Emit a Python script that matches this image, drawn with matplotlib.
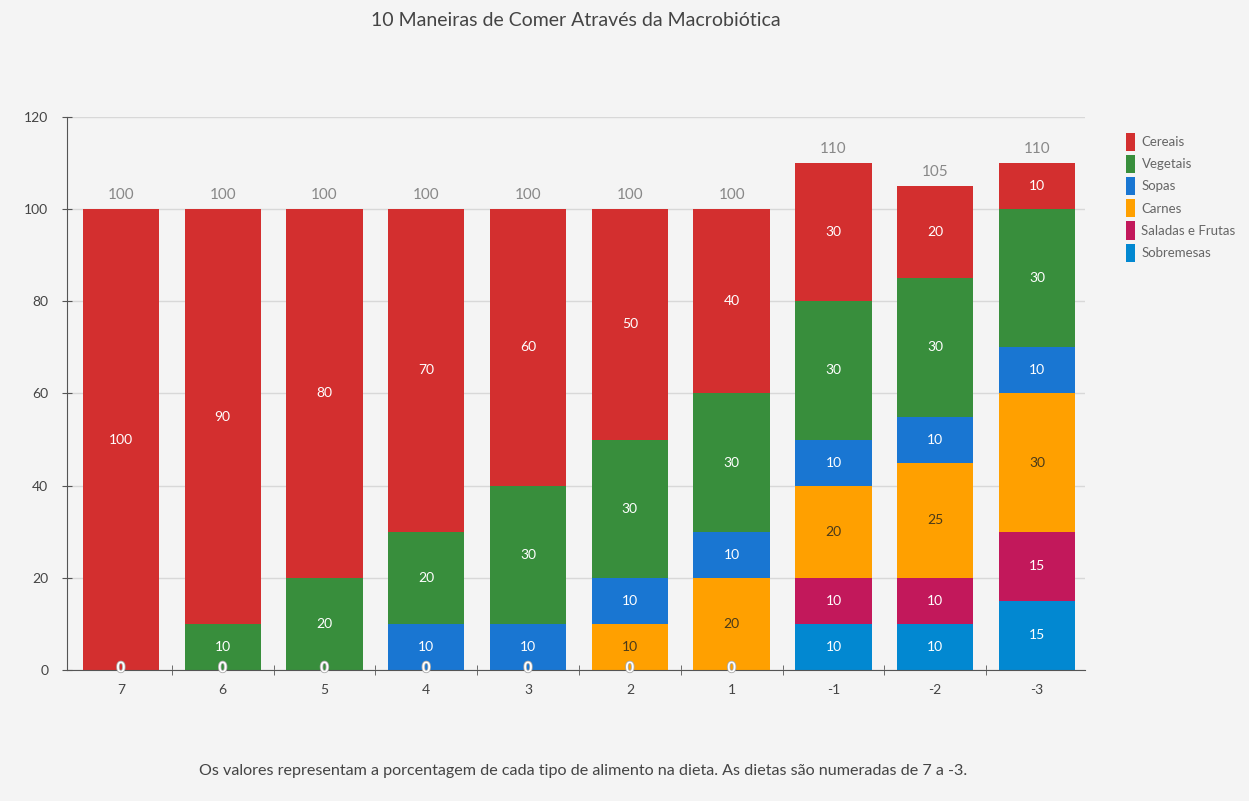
import numpy as np
import matplotlib.pyplot as plt
import matplotlib.patheffects as pe

plt.rcParams['font.family'] = ['Lato', 'DejaVu Sans']

dietas = ['7', '6', '5', '4', '3', '2', '1', '-1', '-2', '-3']

# stacked from bottom to top
sobremesas = [0, 0, 0, 0, 0, 0, 0, 10, 10, 15]
saladas = [0, 0, 0, 0, 0, 0, 0, 10, 10, 15]
carnes = [0, 0, 0, 0, 0, 10, 20, 20, 25, 30]
sopas = [0, 0, 0, 10, 10, 10, 10, 10, 10, 10]
vegetais = [0, 10, 20, 20, 30, 30, 30, 30, 30, 30]
cereais = [100, 90, 80, 70, 60, 50, 40, 30, 20, 10]

series = [
    ('Sobremesas', sobremesas, '#0288d1', 'white'),
    ('Saladas e Frutas', saladas, '#c2185b', 'white'),
    ('Carnes', carnes, '#ffa000', '#4a3a1a'),
    ('Sopas', sopas, '#1976d2', 'white'),
    ('Vegetais', vegetais, '#388e3c', 'white'),
    ('Cereais', cereais, '#d32f2f', 'white'),
]

bg = '#f4f4f4'
fig = plt.figure(figsize=(12.49, 8.01), dpi=100, facecolor=bg)
ax = fig.add_axes([0.0536, 0.1635, 0.815, 0.6905], facecolor=bg)

x = np.arange(len(dietas))
bottom = np.zeros(len(dietas))
has_zero = np.zeros(len(dietas), dtype=bool)
handles = []
for name, vals, color, tcolor in series:
    vals = np.array(vals, dtype=float)
    b = ax.bar(x, vals, 0.75, bottom=bottom, color=color, label=name, zorder=2)
    handles.append(b)
    for xi, v, bt in zip(x, vals, bottom):
        if v == 0:
            has_zero[xi] = True
            continue
        ax.text(xi, bt + v / 2, f'{int(v)}', ha='center', va='center',
                fontsize=10, color=tcolor, zorder=4)
    bottom += vals

for xi in x[has_zero]:
    t = ax.text(xi, 0.4, '0', ha='center', va='center', fontsize=10.5,
                color='white', fontweight='bold', zorder=4)
    t.set_path_effects([pe.withStroke(linewidth=1.2, foreground='#aaaaaa')])

for xi, tot in zip(x, bottom):
    ax.text(xi, tot + 1.5, f'{int(tot)}', ha='center', va='bottom',
            fontsize=11, color='#888888')

ax.set_xlim(-0.53, 9.47)
ax.set_ylim(0, 120)
ax.set_yticks(np.arange(0, 121, 20))
ax.set_xticks(x)
ax.set_xticklabels(dietas)
ax.set_xticks(np.arange(0.5, 9.5, 1), minor=True)
ax.tick_params(axis='x', which='major', length=0, pad=10, labelsize=10, labelcolor='#444444')
ax.tick_params(axis='x', which='minor', length=7, direction='inout', color='#555555')
ax.tick_params(axis='y', length=7, direction='inout', color='#555555', labelsize=10,
               labelcolor='#444444', pad=10)
ax.yaxis.grid(True, color='#d8d8d8', linewidth=1, zorder=0)
for s in ['top', 'right']:
    ax.spines[s].set_visible(False)
for s in ['left', 'bottom']:
    ax.spines[s].set_color('#555555')

h = handles[::-1]
leg = fig.legend(h, [hh.get_label() for hh in h], loc='upper left',
                 bbox_to_anchor=(0.897, 0.841), frameon=False, fontsize=9.5,
                 handlelength=0.7, handleheight=1.75, handletextpad=0.5,
                 labelspacing=0.3, borderaxespad=0)
for t in leg.get_texts():
    t.set_color('#666666')

fig.text(0.461, 0.975, '10 Maneiras de Comer Através da Macrobiótica', ha='center',
         va='center', fontsize=14, color='#444444')
fig.text(0.467, 0.038, 'Os valores representam a porcentagem de cada tipo de alimento na dieta. '
         'As dietas são numeradas de 7 a -3.', ha='center', va='center',
         fontsize=11.6, color='#444444')

fig.savefig('out.png', dpi=100, facecolor=bg)
